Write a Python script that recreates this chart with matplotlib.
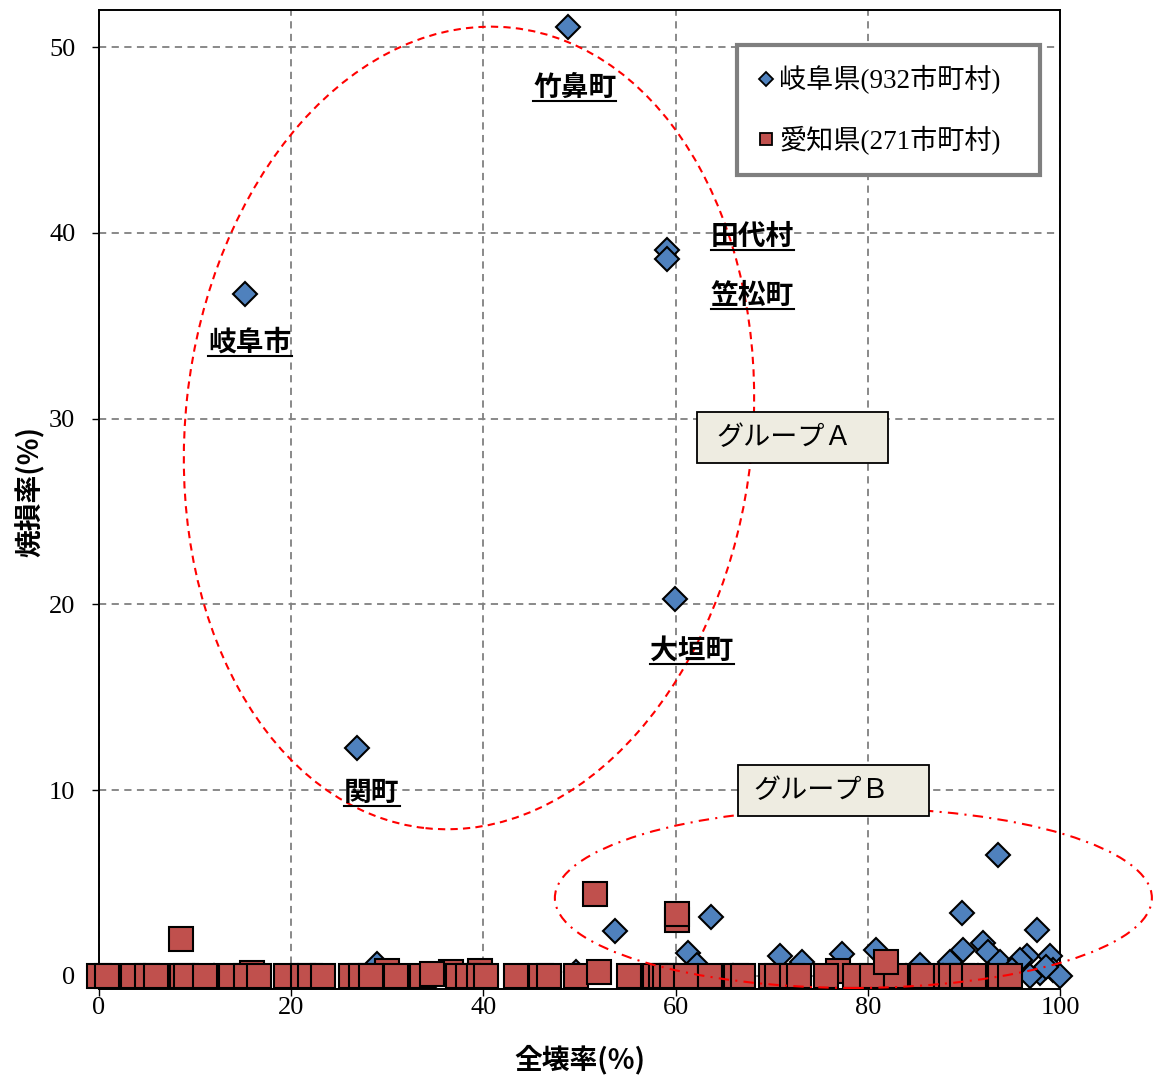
import matplotlib
matplotlib.use('Agg')
import matplotlib.pyplot as plt
from matplotlib.patches import Ellipse, Rectangle
from matplotlib.lines import Line2D
from matplotlib.transforms import ScaledTranslation, IdentityTransform

plt.rcParams['font.family'] = ['Liberation Serif', 'Noto Sans CJK JP']
SANS = ['Noto Sans CJK JP']

# 岐阜県: 全壊率(%), 焼損率(%)
gifu_x = [48.8, 59.1, 59.1, 15.2, 59.9, 26.8, 93.5, 89.8, 97.6, 63.7,
          53.7, 61.3, 62.2, 80.9, 77.3, 70.9, 73.2, 28.9, 49.6, 92.0,
          89.9, 92.5, 96.6, 99.0, 85.4, 88.6, 93.8, 95.8, 97.9, 99.3,
          100.0, 87.8, 96.9, 98.5, 95.0, 12.0, 35.0, 66.0, 84.0, 91.5]
gifu_y = [51.1, 39.1, 38.6, 36.7, 20.3, 12.3, 6.5, 3.4, 2.5, 3.2,
          2.4, 1.25, 0.6, 1.4, 1.2, 1.1, 0.75, 0.65, 0.2, 1.8,
          1.4, 1.3, 1.1, 1.1, 0.6, 0.75, 0.75, 0.85, 0.15, 0.3,
          0.0, 0.0, 0.0, 0.5, 0.3, 0.0, 0.0, 0.0, 0.0, 0.0]

# 愛知県: 全壊率(%), 焼損率(%)
aichi_x = [8.5, 15.9, 30.0, 36.6, 39.6, 76.9, 60.1, 60.1, 51.6,
           0.0, 0.8, 3.5, 5.0, 5.9, 8.6, 9.1, 11.0, 13.7, 15.3,
           16.7, 19.5, 21.2, 22.0, 23.3, 26.2, 27.3, 28.3, 30.9, 33.6,
           37.4, 38.4, 39.5, 40.3, 43.4, 46.0, 46.8, 49.6, 55.1, 57.9,
           58.5, 58.9, 59.6, 61.1, 63.6, 66.3, 67.0, 69.9, 70.5, 72.1,
           72.8, 75.6, 78.7, 80.4, 82.9, 85.6, 88.1, 88.7, 89.8, 91.0,
           93.8, 94.8,
           34.7, 52.0, 81.9]
aichi_y = [2.0, 0.15, 0.25, 0.2, 0.27, 0.25, 3.0, 3.36, 4.4,
           0, 0, 0, 0, 0, 0, 0, 0, 0, 0,
           0, 0, 0, 0, 0, 0, 0, 0, 0, 0,
           0, 0, 0, 0, 0, 0, 0, 0, 0, 0,
           0, 0, 0, 0, 0, 0, 0, 0, 0, 0,
           0, 0, 0, 0, 0, 0, 0, 0, 0, 0,
           0, 0,
           0.1, 0.24, 0.78]

labels = ['岐阜県(932市町村)', '愛知県(271市町村)']

town_names = ['竹鼻町', '田代村', '笠松町', '岐阜市', '大垣町', '関町']
town_x = [49.5, 68.0, 68.0, 15.7, 61.7, 28.4]
town_y = [47.8, 39.8, 36.6, 34.1, 17.5, 9.85]

BLUE = '#4F81BD'
RED = '#C0504D'

fig = plt.figure(figsize=(11.53, 10.77), dpi=100)
ax = fig.add_axes([99 / 1153, 88 / 1077, 961 / 1153, 979 / 1077])

ax.plot(gifu_x, gifu_y, ls='none', marker='D', ms=12.5, mfc=BLUE, mec='black',
        mew=1.5, clip_on=False, zorder=3)
ax.plot(aichi_x, aichi_y, ls='none', marker='s', ms=17.7, mfc=RED, mec='black',
        mew=1.5, clip_on=False, zorder=4)

ax.set_xlim(0, 100)
ax.set_ylim(-0.7, 52)
ax.set_xticks(range(0, 101, 20))
ax.set_yticks(range(0, 51, 10))
ax.tick_params(axis='both', direction='out', length=5, width=1, labelsize=19)
ax.tick_params(axis='y', pad=12)
ax.tick_params(axis='x', pad=1)
ax.set_axisbelow(True)
ax.grid(True, color='#808080', ls=(0, (4, 3)), lw=1.3)
for sp in ax.spines.values():
    sp.set_linewidth(1.4)

ax.set_xlabel('全壊率(%)', family=SANS, weight='bold', fontsize=20, va='center')
ax.xaxis.set_label_coords(0.5, -0.0725)
ax.set_ylabel('焼損率(%)', family=SANS, weight='bold', fontsize=20, va='center')
ax.yaxis.set_label_coords(-0.072, 0.508)


def px_anchor(x, y):
    # sizes in inches (pixels / 100), anchored at a data point
    return fig.dpi_scale_trans + ScaledTranslation(x, y, ax.transData)


# グループA / グループB の囲み
ax.add_patch(Ellipse((0, 0), 5.67, 8.05, angle=-6.2, transform=px_anchor(38.5, 29.5),
                     fill=False, ec='red', lw=1.5, ls=(0, (3.5, 2.5)), zorder=5, clip_on=False))
ax.add_patch(Ellipse((0, 0), 5.97, 1.80, angle=0, transform=px_anchor(78.5, 4.2),
                     fill=False, ec='red', lw=1.5, ls=(0, (5, 3, 1, 3)), zorder=5, clip_on=False))

for bx, by, tx, text in [(72.2, 29.0, 71.3, 'グループＡ'), (76.4, 9.96, 75.2, 'グループＢ')]:
    ax.add_patch(Rectangle((-0.955, -0.255), 1.91, 0.51, transform=px_anchor(bx, by),
                           fc='#EEECE1', ec='black', lw=1.3, zorder=6, clip_on=False))
    ax.text(tx, by, text, family=SANS, fontsize=19.5, ha='center', va='center', zorder=7)

town_texts = []
for name, x, y in zip(town_names, town_x, town_y):
    t = ax.text(x, y, name, family=SANS, weight='bold', fontsize=20,
                ha='center', va='center', zorder=7)
    town_texts.append(t)

h1 = Line2D([], [], ls='none', marker='D', ms=7, mfc=BLUE, mec='black', mew=1.3)
h2 = Line2D([], [], ls='none', marker='s', ms=9, mfc=RED, mec='black', mew=1.3)
leg = ax.legend([h1, h2], labels, loc='upper left', bbox_to_anchor=(0.664, 0.834, 0.315, 0.13),
                mode='expand', borderaxespad=0, prop={'size': 19.5}, frameon=True,
                fancybox=False, framealpha=1, edgecolor='#7F7F7F', handlelength=0.6,
                handletextpad=0.2, labelspacing=1.15, borderpad=0.75)
leg.get_frame().set_linewidth(3)
leg.set_zorder(8)

# 地名の下線
fig.canvas.draw()
for t in town_texts:
    bb = t.get_window_extent()
    yc = (bb.y0 + bb.y1) / 2 - 13
    fig.add_artist(Line2D([bb.x0, bb.x1], [yc, yc], transform=IdentityTransform(),
                          color='black', lw=1.5, zorder=8))

fig.savefig('out.png', dpi=100)
